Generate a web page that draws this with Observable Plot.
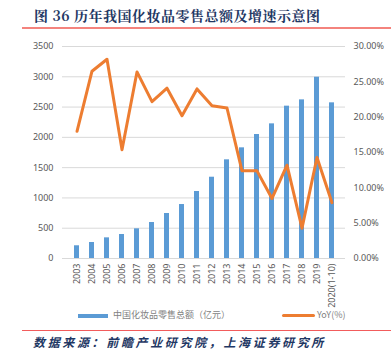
<!DOCTYPE html>
<html>
<head>
<meta charset="utf-8">
<script src="https://cdn.jsdelivr.net/npm/d3@7"></script>
<script src="https://cdn.jsdelivr.net/npm/@observablehq/plot@0.6"></script>
<style>
  body { margin: 0; background: #fff; }
  #wrap { position: relative; width: 391px; height: 349px; background: #fff; overflow: hidden; font-family: "Noto Sans CJK SC", "Noto Sans", sans-serif; }
  #title { position: absolute; left: 34px; top: 5px; font-size: 14px; font-weight: bold; color: #1f3864; font-family: "Noto Serif CJK SC", "Noto Sans CJK SC", serif; white-space: nowrap; letter-spacing: 0.5px; }
  #topline { position: absolute; left: 22px; top: 27px; width: 369px; height: 2px; background: #f4837d; }
  #chart { position: absolute; left: 0; top: 30px; }
  #legend { position: absolute; top: 308px; left: 0; width: 391px; height: 14px; font-size: 9px; color: #7f7f7f; }
  .sw { position: absolute; top: 6px; height: 4px; }
  .lt { position: absolute; top: 0px; white-space: nowrap; }
  #botline { position: absolute; left: 22px; top: 330px; width: 369px; height: 1px; background: #f25c5c; }
  #source { position: absolute; left: 33px; top: 333px; font-size: 12px; font-weight: bold; font-style: italic; color: #1f3864; letter-spacing: 2.65px; white-space: nowrap; }
</style>
</head>
<body>
<div id="wrap">
  <div id="title">图 36 历年我国化妆品零售总额及增速示意图</div>
  <div id="topline"></div>
  <div id="chart"></div>
  <div id="legend">
    <div class="sw" style="left:78px;width:30px;background:#5b9bd5"></div>
    <div class="lt" style="left:113px">中国化妆品零售总额（亿元）</div>
    <div class="sw" style="left:282px;width:33px;height:3px;top:6px;background:#ed7d31;border-radius:1.5px"></div>
    <div class="lt" style="left:317px">YoY(%)</div>
  </div>
  <div id="botline"></div>
  <div id="source">数据来源：前瞻产业研究院，上海证券研究所</div>
</div>
<script>
const years = ["2003","2004","2005","2006","2007","2008","2009","2010","2011","2012","2013","2014","2015","2016","2017","2018","2019","2020(1-10)"];
const sales = [210, 264, 341, 396, 490, 594, 743, 891, 1106, 1342, 1629, 1827, 2047, 2223, 2515, 2619, 2993, 2570];
const yoy = [18.0, 26.5, 28.2, 15.4, 26.4, 22.2, 24.1, 20.2, 24.0, 21.6, 21.3, 12.4, 12.4, 8.5, 13.2, 4.3, 14.3, 7.9];
const leftTicks = [0, 500, 1000, 1500, 2000, 2500, 3000, 3500];
const rightTicks = [0, 5, 10, 15, 20, 25, 30];

const leftMax = 3500, rightMax = 30;
const toLeft = v => v * leftMax / rightMax;

const rows = years.map((y, i) => ({year: y, sales: sales[i], yoy: yoy[i]}));

const chart = Plot.plot({
  width: 391,
  height: 290,
  marginLeft: 62,
  marginRight: 46,
  marginTop: 16,
  marginBottom: 62,
  style: { fontFamily: "'Noto Sans', sans-serif", fontSize: "9px", color: "#595959", background: "transparent" },
  x: { domain: years, paddingInner: 0.68, paddingOuter: 0.34, align: 0.5, label: null },
  y: { domain: [0, leftMax], label: null },
  marks: [
    Plot.gridY(leftTicks, { stroke: "#d9d9d9", strokeOpacity: 1, strokeWidth: 1 }),
    Plot.axisY(leftTicks, { anchor: "left", label: null, tickSize: 0, tickPadding: 9, tickFormat: d => String(d), fill: "#595959" }),
    Plot.axisY(rightTicks.map(toLeft), { anchor: "right", label: null, tickSize: 0, tickPadding: 8, tickFormat: d => (d * rightMax / leftMax).toFixed(2) + "%", fill: "#595959" }),
    Plot.axisX({ tickSize: 0, tickPadding: 5, tickRotate: -90, label: null, fill: "#595959" }),
    Plot.barY(rows, { x: "year", y: "sales", fill: "#5b9bd5" }),
    Plot.line(rows, { x: "year", y: d => toLeft(d.yoy), stroke: "#ed7d31", strokeWidth: 3, strokeLinejoin: "round", strokeLinecap: "round" })
  ]
});
document.getElementById("chart").appendChild(chart);
</script>
</body>
</html>
